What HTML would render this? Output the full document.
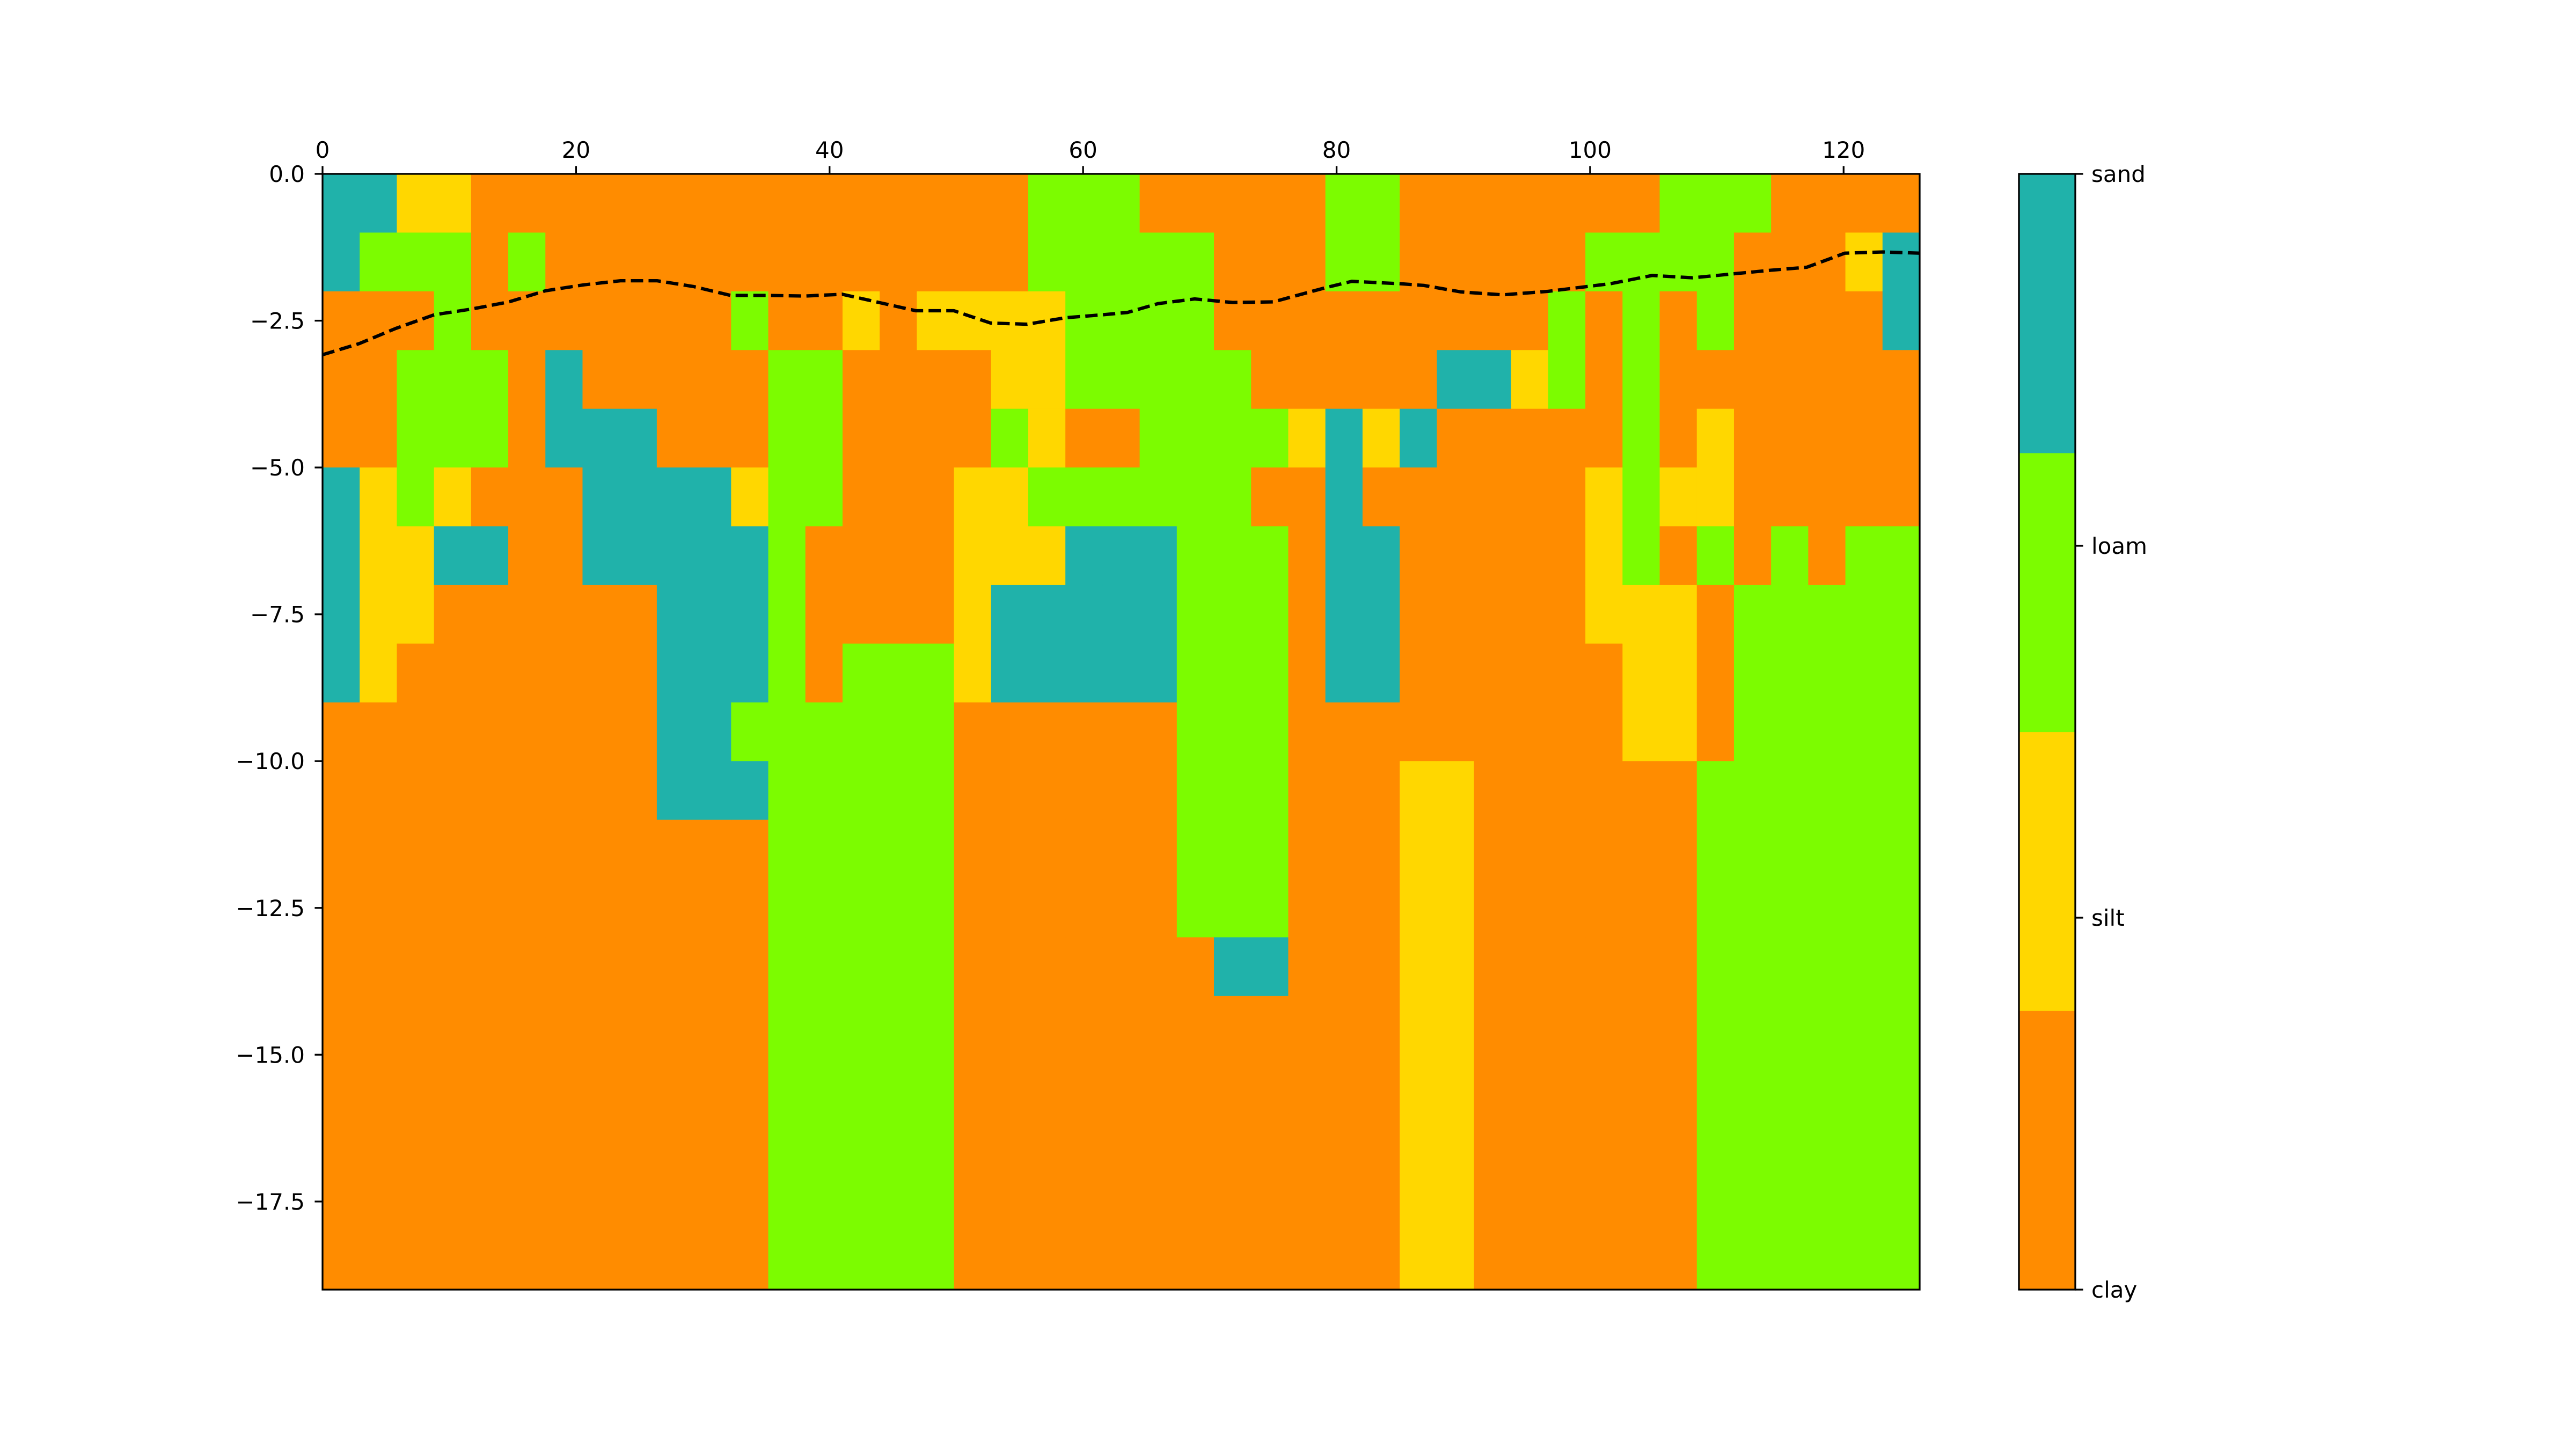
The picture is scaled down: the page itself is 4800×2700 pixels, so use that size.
<!DOCTYPE html>
<html><head><meta charset="utf-8"><title>Soil profile</title>
<style>
html,body{margin:0;padding:0;background:#fff;}
svg{display:block;}
text{font-family:"DejaVu Sans","Liberation Sans",sans-serif;font-size:42px;fill:#000;}
</style></head>
<body>
<svg id="chart" xmlns="http://www.w3.org/2000/svg" width="4800" height="2700" viewBox="0 0 4800 2700">
<rect width="4800" height="2700" fill="#fff"/>
<g id="cells"></g>
<g id="line"></g>
<g id="axes"></g>
<g id="cbar"></g>
</svg>
<script>
// soil grid: one string per column, top to bottom; C=clay S=silt L=loam A=sand
const soilColumns = [
"AACCCAAAACCCCCCCCCC","ALCCCSSSSCCCCCCCCCC","SLCLLLSSCCCCCCCCCCC","SLLLLSACCCCCCCCCCCC",
"CCCLLCACCCCCCCCCCCC","CLCCCCCCCCCCCCCCCCC","CCCAACCCCCCCCCCCCCC","CCCCAAACCCCCCCCCCCC",
"CCCCAAACCCCCCCCCCCC","CCCCCAAAAAACCCCCCCC","CCCCCAAAAAACCCCCCCC","CCLCCSAAALACCCCCCCC",
"CCCLLLLLLLLLLLLLLLL","CCCLLLCCCLLLLLLLLLL","CCSCCCCCLLLLLLLLLLL","CCCCCCCCLLLLLLLLLLL",
"CCSCCCCCLLLLLLLLLLL","CCSCCSSSSCCCCCCCCCC","CCSSLSSAACCCCCCCCCC","LLSSSLSAACCCCCCCCCC",
"LLLLCLAAACCCCCCCCCC","LLLLCLAAACCCCCCCCCC","CLLLLLAAACCCCCCCCCC","CLLLLLLLLLLLLCCCCCC",
"CCCLLLLLLLLLLACCCCC","CCCCLCLLLLLLLACCCCC","CCCCSCCCCCCCCCCCCCC","LLCCAAAAACCCCCCCCCC",
"LLCCSCAAACCCCCCCCCC","CCCCACCCCCSSSSSSSSS","CCCACCCCCCSSSSSSSSS","CCCACCCCCCCCCCCCCCC",
"CCCSCCCCCCCCCCCCCCC","CCLLCCCCCCCCCCCCCCC","CLCCCSSSCCCCCCCCCCC","CLLLLLLSSSCCCCCCCCC",
"LLCCCSCSSSCCCCCCCCC","LLLCSSLCCCLLLLLLLLL","LCCCCCCLLLLLLLLLLLL","CCCCCCLLLLLLLLLLLLL",
"CCCCCCCLLLLLLLLLLLL","CSCCCCLLLLLLLLLLLLL","CAACCCLLLLLLLLLLLLL"
];
const soilNames = ["clay","silt","loam","sand"];
const soilCodes = ["C","S","L","A"];
const soilColors = ["#FF8C00","#FFD700","#7CFC00","#20B2AA"];
const lineX = [0,2.9,5.8,8.8,11.8,14.7,17.6,20.6,23.5,26.4,29.3,32.2,35.2,38.1,41.0,43.9,46.8,49.8,52.7,55.6,58.6,61.5,63.5,65.9,68.8,71.8,75.0,79.1,81.2,85.0,86.9,89.8,93.1,96.7,99.7,101.6,104.9,108.1,111.4,114.3,117.1,120.1,123.1,126];
const lineY = [-3.08,-2.89,-2.63,-2.40,-2.30,-2.18,-1.99,-1.89,-1.82,-1.82,-1.92,-2.07,-2.07,-2.08,-2.05,-2.19,-2.33,-2.33,-2.54,-2.56,-2.45,-2.40,-2.36,-2.21,-2.13,-2.19,-2.18,-1.94,-1.83,-1.87,-1.90,-2.01,-2.06,-2.00,-1.92,-1.87,-1.73,-1.77,-1.70,-1.64,-1.59,-1.35,-1.33,-1.35];
const xTicks = [0,20,40,60,80,100,120];
const yTicks = [0,-2.5,-5,-7.5,-10,-12.5,-15,-17.5];
const yTickLabels = ["0.0","\u22122.5","\u22125.0","\u22127.5","\u221210.0","\u221212.5","\u221215.0","\u221217.5"];

const NS="http://www.w3.org/2000/svg";
const X0=601,X1=3577,Y0=324,Y1=2403,XMAX=126,YMIN=-19;
const sx=v=>X0+(v/XMAX)*(X1-X0);
const sy=v=>Y0+(-v/(-YMIN))*(Y1-Y0);
function mk(tag,attrs,parent){const e=document.createElementNS(NS,tag);for(const k in attrs)e.setAttribute(k,attrs[k]);parent.appendChild(e);return e;}

const cells=document.getElementById('cells');
const nCols=soilColumns.length, cw=XMAX/nCols;
soilColumns.forEach((col,c)=>{
  for(let r=0;r<col.length;r++){
    const k=soilCodes.indexOf(col[r]);
    const x1=sx(c*cw),x2=sx((c+1)*cw),ya=sy(-r),yb=sy(-(r+1));
    const el=mk('rect',{x:x1,y:ya,width:x2-x1+0.6,height:yb-ya+0.6,fill:soilColors[k]},cells);
    
    
  }
});

const lg=document.getElementById('line');
const pl=mk('polyline',{points:lineX.map((x,i)=>sx(x)+','+sy(lineY[i])).join(' '),fill:'none',stroke:'#000','stroke-width':6.25,'stroke-dasharray':'23,10'},lg);



const ax=document.getElementById('axes');
const frame=mk('rect',{x:X0,y:Y0,width:X1-X0,height:Y1-Y0,fill:'none',stroke:'#000','stroke-width':3.3},ax);


xTicks.forEach(t=>{
  const x=sx(t);
  const tk=mk('line',{x1:x,x2:x,y1:Y0,y2:Y0-14.6,stroke:'#000','stroke-width':3.3},ax);
  
  
  const tx=mk('text',{x:x,y:Y0-30,'text-anchor':'middle'},ax);
  tx.textContent=String(t);
  
  
});
yTicks.forEach((t,i)=>{
  const y=sy(t);
  const tk=mk('line',{x1:X0,x2:X0-14.6,y1:y,y2:y,stroke:'#000','stroke-width':3.3},ax);
  
  
  const tx=mk('text',{x:X0-33,y:y+15,'text-anchor':'end'},ax);
  tx.textContent=yTickLabels[i];
  
  
});

const cb=document.getElementById('cbar');
const CX0=3762,CX1=3867;
const segH=(Y1-Y0)/soilNames.length;
soilNames.forEach((n,i)=>{
  const el=mk('rect',{x:CX0,y:Y1-(i+1)*segH,width:CX1-CX0,height:segH+0.6,fill:soilColors[i]},cb);
  
  
});
const cf=mk('rect',{x:CX0,y:Y0,width:CX1-CX0,height:Y1-Y0,fill:'none',stroke:'#000','stroke-width':3.3},cb);


soilNames.forEach((n,i)=>{
  const y=Y1-i*(Y1-Y0)/(soilNames.length-1);
  const tk=mk('line',{x1:CX1,x2:CX1+14.6,y1:y,y2:y,stroke:'#000','stroke-width':3.3},cb);
  
  
  const tx=mk('text',{x:3897,y:y+15},cb);
  tx.textContent=n;
  
  
});
</script>
</body></html>
